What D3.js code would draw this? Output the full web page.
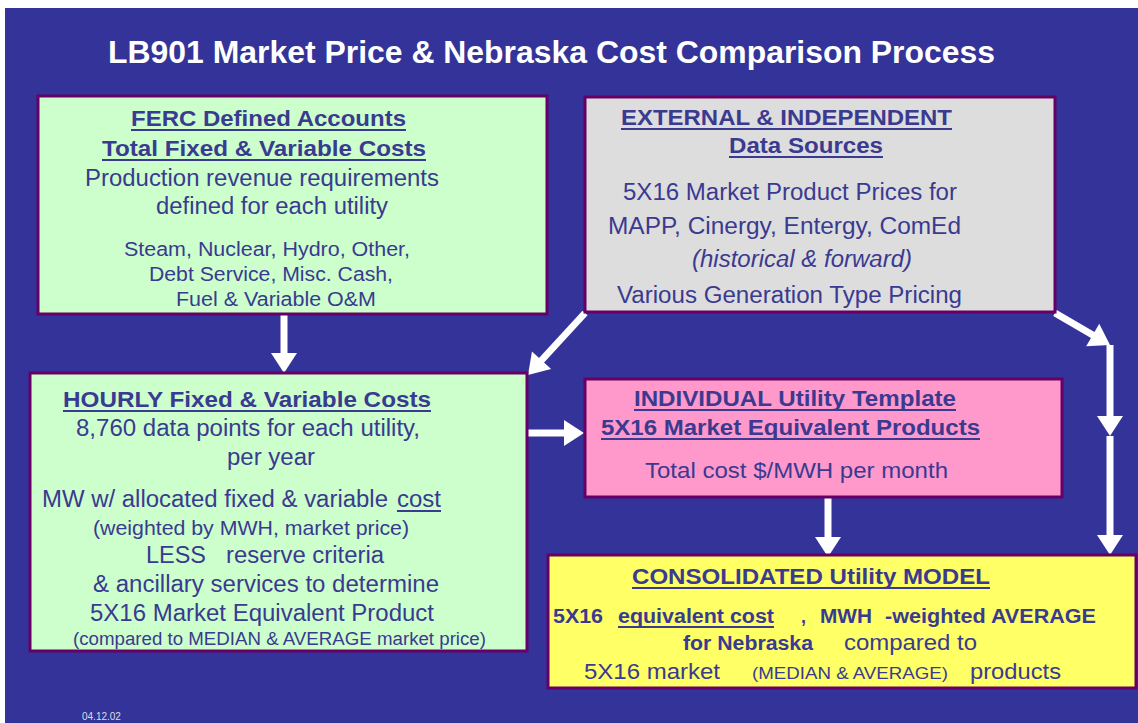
<!DOCTYPE html>
<html lang="en">
<head>
<meta charset="utf-8">
<script src="https://d3js.org/d3.v7.min.js"></script>
<style>
  body { margin: 0; background: #ffffff; }
  svg text { font-family: "Liberation Sans", Arial, Helvetica, sans-serif; }
</style>
</head>
<body>
<div id="chart"></div>
<script>

var width = 1138, height = 723;

// ---------------- text content ----------------
var titleText = "LB901 Market Price & Nebraska Cost Comparison Process";
var dateText = "04.12.02";

var boxNames = ["ferc", "external", "hourly", "individual", "consolidated"];

var fercText = [
  "FERC Defined Accounts",
  "Total Fixed & Variable Costs",
  "Production revenue requirements",
  "defined for each utility",
  "Steam, Nuclear, Hydro, Other,",
  "Debt Service, Misc. Cash,",
  "Fuel & Variable O&M"
];
var externalText = [
  "EXTERNAL & INDEPENDENT",
  "Data Sources",
  "5X16 Market Product Prices for",
  "MAPP, Cinergy, Entergy, ComEd",
  "(historical & forward)",
  "Various Generation Type Pricing"
];
var hourlyText = [
  "HOURLY Fixed & Variable Costs",
  "8,760 data points for each utility,",
  "per year",
  "MW w/ allocated fixed & variable",
  "cost",
  "(weighted by MWH, market price)",
  "LESS",
  "reserve criteria",
  "& ancillary services to determine",
  "5X16 Market Equivalent Product",
  "(compared to MEDIAN & AVERAGE market price)"
];
var individualText = [
  "INDIVIDUAL Utility Template",
  "5X16 Market Equivalent Products",
  "Total cost $/MWH per month"
];
var consolidatedText = [
  "CONSOLIDATED Utility MODEL",
  "5X16", "equivalent cost", ",", "MWH", "-weighted AVERAGE",
  "for Nebraska", "compared to",
  "5X16 market", "(MEDIAN & AVERAGE)", "products"
];

// ---------------- layout ----------------
var colors = {
  bg: "#333399", text: "#3a3a90", border: "#660066", arrow: "#ffffff",
  ferc: "#ccffcc", external: "#dddddd", hourly: "#ccffcc",
  individual: "#ff99cc", consolidated: "#ffff66"
};

// box rectangles [x, y, w, h]
var boxRects = {
  ferc:         [38, 96, 509, 218],
  external:     [585, 97, 470, 215],
  hourly:       [30, 373, 497, 278],
  individual:   [585, 379, 477, 118],
  consolidated: [548, 555, 588, 133]
};

// per-line placement: [x, baseline, length, size, style]
var boxLayout = {
  ferc: [
    [131, 126, 275, 22, "bu"], [102, 156, 324, 22, "bu"],
    [85, 186, 354, 23, "r"], [156, 214, 232, 23, "r"],
    [124, 256, 286, 20, "r"], [149, 281, 244, 20, "r"], [176, 306, 200, 20, "r"]
  ],
  external: [
    [621, 125, 331, 22, "bu"], [729, 153, 154, 22, "bu"],
    [623, 200, 334, 23, "r"], [608, 234, 353, 23, "r"],
    [692, 267, 220, 23, "i"], [617, 303, 345, 23, "r"]
  ],
  hourly: [
    [63, 407, 368, 22, "bu"], [76, 436, 344, 23, "r"], [227, 465, 88, 23, "r"],
    [42, 507, 346, 23, "r"], [397, 507, 44, 23, "ru"],
    [93, 535, 316, 21, "r"],
    [146, 563, 60, 23, "r"], [226, 563, 158, 23, "r"],
    [93, 592, 346, 23, "r"], [90, 621, 344, 23, "r"],
    [73, 645, 413, 18, "r"]
  ],
  individual: [
    [634, 406, 322, 22, "bu"], [601, 435, 379, 22, "bu"], [645, 478, 303, 22, "r"]
  ],
  consolidated: [
    [632, 584, 358, 22, "bu"],
    [553, 623, 50, 20, "b"], [618, 623, 156, 20, "bu"], [801, 623, 5, 20, "b"],
    [820, 623, 52, 20, "b"], [885, 623, 211, 20, "b"],
    [683, 650, 130, 20, "b"], [844, 650, 133, 22, "r"],
    [584, 679, 136, 22, "r"], [752, 679, 196, 17, "r"], [970, 679, 91, 22, "r"]
  ]
};

var boxTexts = {
  ferc: fercText, external: externalText, hourly: hourlyText,
  individual: individualText, consolidated: consolidatedText
};

// arrows: [from, to]
var arrowSegs = [
  [[284, 315], [284, 373]],
  [[585, 313], [528, 375]],
  [[1055, 313], [1110, 345]],
  [[1110, 345], [1110, 436]],
  [[1110, 436], [1110, 555]],
  [[528, 433], [584, 433]],
  [[828, 497], [828, 557]]
];

// ---------------- draw ----------------
var svg = d3.select("#chart").append("svg")
  .attr("width", width)
  .attr("height", height)
  .attr("font-family", "'Liberation Sans', Arial, Helvetica, sans-serif");

svg.append("rect")
  .attr("x", 5).attr("y", 8)
  .attr("width", width - 5).attr("height", height - 8)
  .attr("fill", colors.bg);

svg.append("text")
  .attr("x", 108).attr("y", 63)
  .attr("textLength", 887).attr("lengthAdjust", "spacingAndGlyphs")
  .attr("font-size", 32).attr("font-weight", "bold")
  .attr("fill", "#ffffff")
  .text(titleText);

// arrows
var arrows = svg.append("g").attr("class", "arrows");
arrowSegs.forEach(function(s) {
  var a = s[0], b = s[1];
  var dx = b[0] - a[0], dy = b[1] - a[1], L = Math.hypot(dx, dy);
  var ux = dx / L, uy = dy / L, hl = 20, hw = 13;
  var base = [b[0] - ux * hl, b[1] - uy * hl];
  arrows.append("line")
    .attr("x1", a[0]).attr("y1", a[1])
    .attr("x2", base[0] + ux * 2).attr("y2", base[1] + uy * 2)
    .attr("stroke", colors.arrow).attr("stroke-width", 7);
  arrows.append("polygon")
    .attr("points", [b, [base[0] - uy * hw, base[1] + ux * hw], [base[0] + uy * hw, base[1] - ux * hw]].join(" "))
    .attr("fill", colors.arrow);
});

// boxes
var boxes = svg.selectAll("g.box")
  .data(boxNames)
  .enter().append("g")
  .attr("class", "box");

boxes.append("rect")
  .attr("x", function(d) { return boxRects[d][0]; })
  .attr("y", function(d) { return boxRects[d][1]; })
  .attr("width", function(d) { return boxRects[d][2]; })
  .attr("height", function(d) { return boxRects[d][3]; })
  .attr("fill", function(d) { return colors[d]; })
  .attr("stroke", colors.border)
  .attr("stroke-width", 3);

boxes.each(function(name) {
  var g = d3.select(this);
  var rows = boxTexts[name].map(function(t, i) { return { t: t, p: boxLayout[name][i] }; });

  g.selectAll("text.line")
    .data(rows)
    .enter().append("text")
    .attr("class", "line")
    .attr("x", function(d) { return d.p[0]; })
    .attr("y", function(d) { return d.p[1]; })
    .attr("textLength", function(d) { return d.p[2]; })
    .attr("lengthAdjust", "spacingAndGlyphs")
    .attr("font-size", function(d) { return d.p[3]; })
    .attr("font-weight", function(d) { return d.p[4].indexOf("b") >= 0 ? "bold" : "normal"; })
    .attr("font-style", function(d) { return d.p[4] === "i" ? "italic" : "normal"; })
    .attr("fill", colors.text)
    .text(function(d) { return d.t; });

  // underlines drawn as lines under the fixed-length texts
  g.selectAll("line.ul")
    .data(rows.filter(function(d) { return d.p[4].indexOf("u") >= 0; }))
    .enter().append("line")
    .attr("class", "ul")
    .attr("x1", function(d) { return d.p[0]; })
    .attr("x2", function(d) { return d.p[0] + d.p[2]; })
    .attr("y1", function(d) { return d.p[1] + 4; })
    .attr("y2", function(d) { return d.p[1] + 4; })
    .attr("stroke", colors.text)
    .attr("stroke-width", 2);
});

svg.append("text")
  .attr("x", 82).attr("y", 720)
  .attr("font-size", 10)
  .attr("fill", "#dddddd")
  .text(dateText);

</script>
</body>
</html>
